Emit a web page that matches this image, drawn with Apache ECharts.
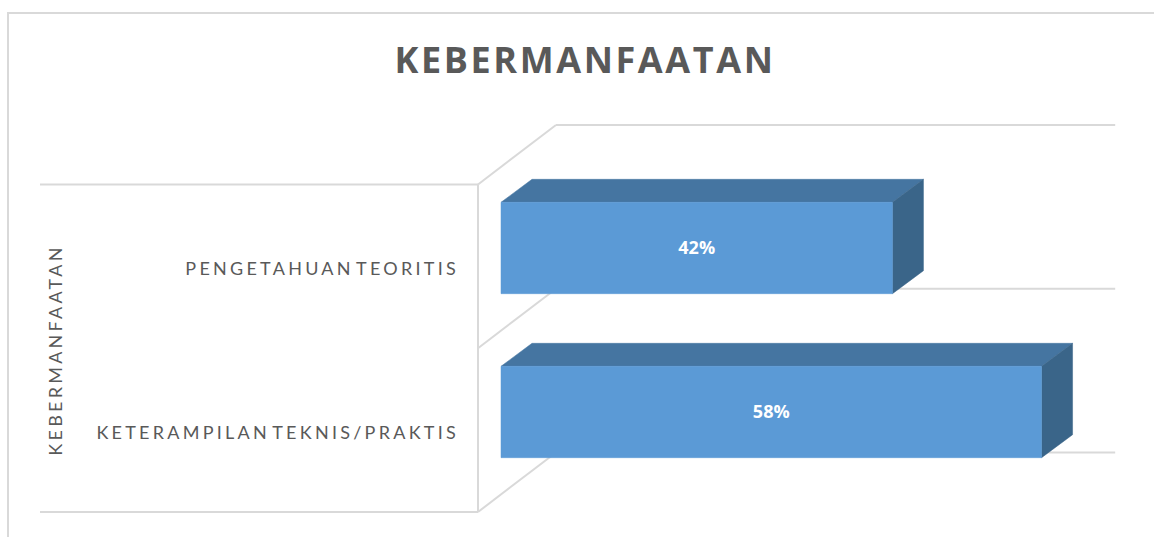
<!DOCTYPE html>
<html>
<head>
<meta charset="utf-8">
<style>
html,body{margin:0;padding:0;background:#fff}
#c{width:1154px;height:537px}
#c text{letter-spacing:3.25px;word-spacing:-5px}
#c text[style*="18px"][style*="bold"]{letter-spacing:0;word-spacing:0}
#c text[style*="36px"]{letter-spacing:2.6px;word-spacing:0}
</style>
<script src="https://cdn.jsdelivr.net/npm/echarts@6/dist/echarts.min.js"></script>
</head>
<body>
<div id="c"></div>
<script>
var titleText = 'KEBERMANFAATAN';
var axisTitle = 'KEBERMANFAATAN';
var categories = ['KETERAMPILAN TEKNIS/PRAKTIS', 'PENGETAHUAN TEORITIS'];
var values = [58, 42];
var valueMax = 60;

var DEPTH_X = 31, DEPTH_Y = 23, BAR_RATIO = 0.557;
var WALL = '#d9d9d9';
var FACE_FRONT = '#5b9ad6', FACE_TOP = '#4575a1', FACE_SIDE = '#3a6589';

function line(x1, y1, x2, y2) {
  return {type: 'line', shape: {x1: x1, y1: y1, x2: x2, y2: y2},
          style: {stroke: WALL, lineWidth: 2, fill: null}};
}

function renderWalls(params, api) {
  var cs = params.coordSys;
  var fx = cs.x - 23, fTop = cs.y + 18.5, fBot = cs.y + cs.height + 18, fMid = (fTop + fBot) / 2;
  var bx = cs.x + 55, dy = -59.5, bR = cs.x + cs.width + 55;
  return {type: 'group', children: [
    line(40, fTop, fx, fTop),
    line(40, fBot, fx, fBot),
    line(fx, fTop, fx, fBot),
    line(fx, fTop, bx, fTop + dy),
    line(fx, fMid, bx, fMid + dy),
    line(fx, fBot, bx, fBot + dy),
    line(bx, fTop + dy, bR, fTop + dy),
    line(bx, fMid + dy, bR, fMid + dy),
    line(bx, fBot + dy, bR, fBot + dy)
  ]};
}

function poly(points, fill) {
  return {type: 'polygon', shape: {points: points},
          style: {fill: fill, stroke: fill, lineWidth: 0.5}};
}

function renderBar(params, api) {
  var cat = api.value(0), val = api.value(1);
  var start = api.coord([0, cat]), end = api.coord([val, cat]);
  var h = api.size([0, 1])[1] * BAR_RATIO;
  var x0 = start[0], x1 = end[0], t = start[1] - h / 2, b = start[1] + h / 2;
  return {type: 'group', children: [
    poly([[x0, t], [x1, t], [x1 + DEPTH_X, t - DEPTH_Y], [x0 + DEPTH_X, t - DEPTH_Y]], FACE_TOP),
    poly([[x1, t], [x1 + DEPTH_X, t - DEPTH_Y], [x1 + DEPTH_X, b - DEPTH_Y], [x1, b]], FACE_SIDE),
    poly([[x0, t], [x1, t], [x1, b], [x0, b]], FACE_FRONT),
    {type: 'text', style: {
      x: (x0 + x1) / 2, y: start[1] - 1.5, text: val + '%', fill: '#ffffff',
      font: 'bold 18px "Open Sans"', align: 'center', verticalAlign: 'middle'
    }}
  ]};
}

var chart = echarts.init(document.getElementById('c'), null, {renderer: 'svg', width: 1154, height: 537});
chart.setOption({
  animation: false,
  backgroundColor: '#ffffff',
  title: {
    text: titleText, left: 580, top: 36, textAlign: 'center',
    textStyle: {fontFamily: 'Open Sans', fontWeight: 'bold', fontSize: 36, color: '#595959'}
  },
  graphic: [{
    type: 'polyline', silent: true, z: -1,
    shape: {points: [[8, 540], [8, 13], [1160, 13]]},
    style: {stroke: WALL, lineWidth: 2, fill: null}
  }],
  grid: [
    {left: 501, top: 166, width: 559.2, height: 328},
    {left: 478, top: 186, width: 559.2, height: 328}
  ],
  xAxis: [
    {type: 'value', gridIndex: 0, min: 0, max: valueMax, show: false},
    {type: 'value', gridIndex: 1, min: 0, max: valueMax, show: false}
  ],
  yAxis: [
    {type: 'category', gridIndex: 0, data: categories, show: false},
    {
      type: 'category', gridIndex: 1, data: categories,
      axisLine: {show: false}, axisTick: {show: false}, splitLine: {show: false},
      axisLabel: {margin: 19, fontFamily: 'Lato', fontSize: 18, color: '#595959'},
      name: axisTitle, nameLocation: 'middle', nameRotate: 90, nameGap: 414,
      nameTextStyle: {fontFamily: 'Lato', fontSize: 18, color: '#595959'}
    }
  ],
  series: [
    {type: 'custom', xAxisIndex: 0, yAxisIndex: 0, data: [[0, 0]], renderItem: renderWalls, silent: true, z: 1},
    {
      type: 'custom', xAxisIndex: 0, yAxisIndex: 0, z: 2,
      data: values.map(function (v, i) { return [i, v]; }),
      encode: {x: 1, y: 0},
      renderItem: renderBar
    }
  ]
});
</script>
</body>
</html>
